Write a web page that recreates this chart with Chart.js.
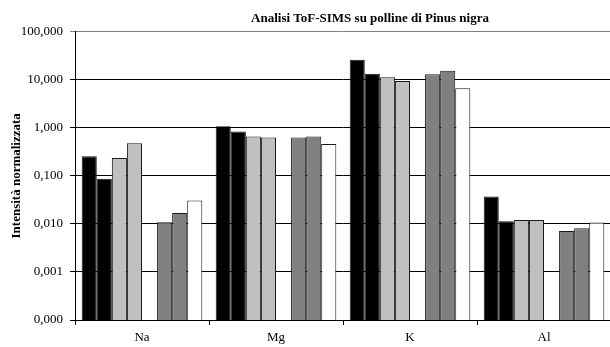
<!DOCTYPE html>
<html>
<head>
<meta charset="utf-8">
<script src="https://cdn.jsdelivr.net/npm/chart.js@4/dist/chart.umd.min.js"></script>
<style>
html,body{margin:0;padding:0;background:#fff;overflow:hidden;width:610px;height:347px;}
#wrap{position:absolute;left:0;top:0;width:740px;height:347px;}
</style>
</head>
<body>
<div id="wrap"><canvas id="c" width="740" height="347"></canvas></div>
<script>
const chartTitle = 'Analisi ToF-SIMS su polline di Pinus nigra';
const yAxisTitle = 'Intensità normalizzata';
const categories = ['Na', 'Mg', 'K', 'Al'];
const tickValues = [0.0001, 0.001, 0.01, 0.1, 1, 10, 100];

const serie1 = [0.255, 1.07, 26.1, 0.037];
const serie2 = [0.087, 0.83, 13.2, 0.0114];
const serie3 = [0.235, 0.66, 11.2, 0.012];
const serie4 = [0.476, 0.63, 9.4, 0.012];
const serie5 = [null, null, null, null];
const serie6 = [0.0108, 0.63, 12.9, 0.0071];
const serie7 = [0.0169, 0.66, 15.4, 0.0081];
const serie8 = [0.0306, 0.457, 6.6, 0.0107];

const seriesList = [serie1, serie2, serie3, serie4, serie5, serie6, serie7, serie8];
const seriesColors = ['#000000', '#000000', '#c0c0c0', '#c0c0c0', '#ffffff', '#808080', '#808080', '#ffffff'];

const FONT = 'Liberation Serif';

new Chart(document.getElementById('c'), {
  type: 'bar',
  data: {
    labels: categories,
    datasets: seriesList.map((d, i) => ({
      label: 'Serie ' + (i + 1),
      data: d,
      backgroundColor: seriesColors[i],
      borderColor: '#1a1a1a',
      borderWidth: 1,
      categoryPercentage: 0.9,
      barPercentage: 1.0
    }))
  },
  options: {
    responsive: false,
    animation: false,
    layout: { padding: 0 },
    plugins: {
      legend: { display: false },
      tooltip: { enabled: false },
      title: {
        display: true,
        text: chartTitle,
        color: '#000',
        font: { family: FONT, size: 13, weight: 'bold' },
        padding: { top: 11, bottom: 5 }
      }
    },
    scales: {
      x: {
        type: 'category',
        offset: true,
        afterFit: (s) => { s.height = 27; },
        grid: { display: true, drawOnChartArea: false, offset: true, drawTicks: true, tickLength: 5, color: '#000' },
        border: { display: true, color: '#000', width: 1 },
        ticks: { color: '#000', font: { family: FONT, size: 13 }, padding: 5, maxRotation: 0 }
      },
      y: {
        type: 'logarithmic',
        min: 0.0001,
        max: 100,
        afterBuildTicks: (s) => { s.ticks = tickValues.map(v => ({ value: v, major: true })); },
        afterFit: (s) => { s.width = 75; },
        grid: {
          display: true, drawOnChartArea: true, drawTicks: true, tickLength: 5, lineWidth: 1,
          color: (ctx) => (ctx.tick && ctx.tick.value === 100 ? '#808080' : '#000')
        },
        border: { display: true, color: '#000', width: 1 },
        ticks: {
          color: '#000',
          font: { family: FONT, size: 13 },
          padding: 7,
          autoSkip: false,
          callback: (v) => Number(v).toFixed(3).replace('.', ',')
        },
        title: {
          display: true,
          text: yAxisTitle,
          color: '#000',
          font: { family: FONT, size: 13, weight: 'bold' },
          padding: { top: 9, bottom: 0 }
        }
      },
      yRightSpace: {
        type: 'linear',
        position: 'right',
        display: true,
        afterFit: (s) => { s.width = 129; },
        grid: { display: false, drawTicks: false },
        border: { display: false },
        ticks: { display: false }
      }
    }
  }
});
</script>
</body>
</html>
